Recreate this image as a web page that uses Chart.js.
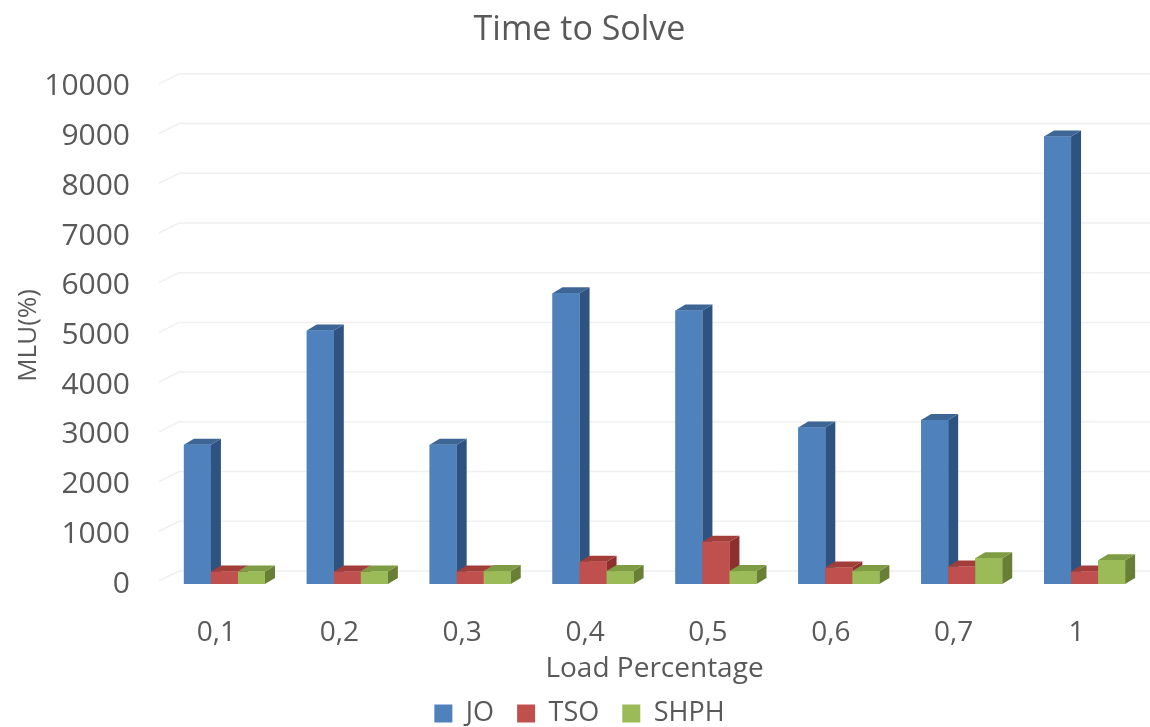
<!DOCTYPE html>
<html>
<head>
<meta charset="utf-8">
<script src="https://cdn.jsdelivr.net/npm/chart.js@4.4.1/dist/chart.umd.min.js"></script>
<style>
  html, body { margin: 0; padding: 0; background: #fff; }
  #wrap { width: 1150px; height: 727px; }
</style>
</head>
<body>
<div id="wrap"><canvas id="chart"></canvas></div>
<script>
const categories = ["0,1", "0,2", "0,3", "0,4", "0,5", "0,6", "0,7", "1"];
const joValues = [2800, 5100, 2800, 5850, 5500, 3150, 3300, 9000];
const tsoValues = [250, 250, 250, 450, 850, 330, 350, 250];
const shphValues = [250, 250, 260, 260, 260, 260, 520, 480];
const yTicks = [0, 10000, 1000]; // min, max, step

const textColor = "#595959";
const fontFamily = "'Open Sans', 'Noto Sans', sans-serif";

// front / top / side shades for each series
const shades = [
  { front: "#4f81bd", top: "#3d6696", side: "#2f5381" },
  { front: "#c0504d", top: "#a33d3a", side: "#8c2f2d" },
  { front: "#9bbb59", top: "#7e9c43", side: "#687f35" }
];
const depthX = 10;
const depthY = 6;

// fake 3d: back wall grid + side/top faces on each bar
const threeD = {
  id: "threeD",
  beforeDatasetsDraw(chart) {
    const ctx = chart.ctx;
    const y = chart.scales.y;
    const area = chart.chartArea;
    ctx.save();
    ctx.strokeStyle = "#f0f0f0";
    ctx.lineWidth = 1.5;
    for (let v = yTicks[0]; v <= yTicks[1]; v += yTicks[2]) {
      const py = y.getPixelForValue(v) - 13;
      ctx.beginPath();
      ctx.moveTo(area.left - 4, py + 10);
      ctx.lineTo(area.left + 16, py);
      ctx.lineTo(area.right + 4, py);
      ctx.stroke();
    }
    ctx.restore();
  },
  afterDatasetsDraw(chart) {
    const ctx = chart.ctx;
    const metas = chart.data.datasets.map((d, i) => chart.getDatasetMeta(i));
    ctx.save();
    for (let i = 0; i < categories.length; i++) {
      metas.forEach((meta, di) => {
        const bar = meta.data[i];
        const w = bar.width;
        const left = bar.x - w / 2;
        const right = bar.x + w / 2;
        const top = bar.y;
        const base = bar.base;
        const c = shades[di];
        // side
        ctx.fillStyle = c.side;
        ctx.beginPath();
        ctx.moveTo(right, top);
        ctx.lineTo(right + depthX, top - depthY);
        ctx.lineTo(right + depthX, base - depthY);
        ctx.lineTo(right, base);
        ctx.closePath();
        ctx.fill();
        // top
        ctx.fillStyle = c.top;
        ctx.beginPath();
        ctx.moveTo(left, top);
        ctx.lineTo(left + depthX, top - depthY);
        ctx.lineTo(right + depthX, top - depthY);
        ctx.lineTo(right, top);
        ctx.closePath();
        ctx.fill();
        // front
        ctx.fillStyle = c.front;
        ctx.fillRect(left, top, w, base - top);
      });
    }
    ctx.restore();
  }
};

new Chart(document.getElementById("chart"), {
  type: "bar",
  data: {
    labels: categories,
    datasets: [
      { label: "JO", data: joValues, backgroundColor: shades[0].front },
      { label: "TSO", data: tsoValues, backgroundColor: shades[1].front },
      { label: "SHPH", data: shphValues, backgroundColor: shades[2].front }
    ]
  },
  options: {
    responsive: true,
    maintainAspectRatio: false,
    animation: false,
    devicePixelRatio: 1,
    categoryPercentage: 0.66,
    barPercentage: 1,
    layout: { padding: { left: 13, right: 4, top: 2, bottom: -10 } },
    plugins: {
      tooltip: { enabled: false },
      title: {
        display: true,
        text: "Time to Solve",
        color: textColor,
        font: { family: fontFamily, size: 34, weight: "normal" },
        padding: { top: 8, bottom: 36 }
      },
      legend: {
        position: "bottom",
        labels: {
          color: textColor,
          font: { family: fontFamily, size: 27 },
          boxWidth: 18,
          boxHeight: 18,
          padding: 23
        }
      }
    },
    scales: {
      x: {
        grid: { display: false },
        border: { display: false },
        afterFit: (s) => { s.height = 93; },
        ticks: {
          color: textColor,
          font: { family: fontFamily, size: 28 },
          labelOffset: -8,
          padding: 24
        },
        title: {
          display: true,
          text: "Load Percentage",
          color: textColor,
          font: { family: fontFamily, size: 28 },
          padding: { top: 0, bottom: -9 }
        }
      },
      y: {
        min: yTicks[0],
        max: yTicks[1],
        grid: { display: false },
        border: { display: false },
        afterFit: (s) => { s.width = 150; },
        ticks: {
          stepSize: yTicks[2],
          color: textColor,
          font: { family: fontFamily, size: 30 },
          padding: 25,
          callback: (v) => String(v)
        },
        title: {
          display: true,
          text: "MLU(%)",
          color: textColor,
          font: { family: fontFamily, size: 26 },
          padding: { top: 0, bottom: 2 }
        }
      }
    }
  },
  plugins: [threeD]
});
</script>
</body>
</html>
